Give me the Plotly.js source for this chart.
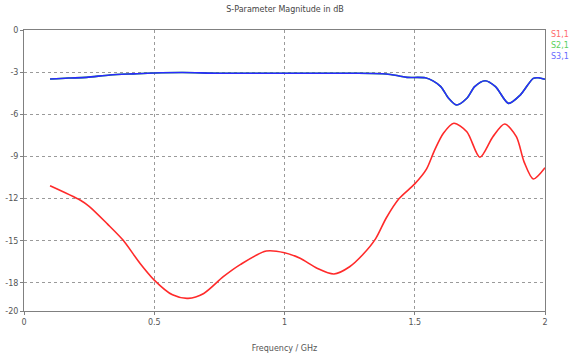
<!DOCTYPE html>
<html>
<head>
<meta charset="utf-8">
<script src="https://cdn.plot.ly/plotly-3.0.1.min.js"></script>
<style>html,body{margin:0;padding:0;background:#fff;}#chart{width:570px;height:354px;}</style>
</head>
<body>
<div id="chart"></div>
<script>
// Data
const freqS11 = [0.10, 0.215, 0.25, 0.32, 0.38, 0.445, 0.50, 0.57, 0.63, 0.69, 0.765, 0.83, 0.93, 1.00, 1.06, 1.125, 1.19, 1.25, 1.30, 1.35, 1.39, 1.44, 1.50, 1.545, 1.575, 1.61, 1.65, 1.70, 1.75, 1.80, 1.845, 1.89, 1.92, 1.955, 2.00];
const s11 = [-11.08, -12.1, -12.55, -13.8, -14.95, -16.6, -17.8, -18.85, -19.1, -18.75, -17.56, -16.7, -15.73, -15.85, -16.25, -16.96, -17.37, -16.85, -16.0, -14.85, -13.4, -12.0, -10.95, -9.9, -8.6, -7.35, -6.64, -7.24, -9.06, -7.59, -6.69, -7.59, -9.4, -10.6, -9.8];

const freqS31 = [0.10, 0.17, 0.24, 0.33, 0.42, 0.50, 0.61, 0.75, 1.00, 1.26, 1.39, 1.44, 1.47, 1.54, 1.57, 1.60, 1.63, 1.66, 1.70, 1.73, 1.77, 1.81, 1.86, 1.905, 1.955, 1.975, 2.00];
const s31 = [-3.49, -3.42, -3.37, -3.2, -3.12, -3.06, -3.03, -3.08, -3.08, -3.08, -3.13, -3.27, -3.37, -3.40, -3.62, -4.03, -4.86, -5.34, -4.86, -4.03, -3.61, -4.03, -5.22, -4.63, -3.44, -3.40, -3.51];
// S2,1 is hidden under S3,1 in the reference
const s21 = [-3.49, -3.42, -3.37, -3.2, -3.12, -3.06, -3.03, -3.08, -3.08, -3.08, -3.13, -3.27, -3.37, -3.40, -3.62, -4.03, -4.86, -5.34, -4.86, -4.03, -3.61, -4.03, -5.22, -4.63, -3.44, -3.40, -3.51];

const seriesNames = ['S1,1', 'S2,1', 'S3,1'];
const xTicks = [0, 0.5, 1, 1.5, 2];
const yTicks = [0, -3, -6, -9, -12, -15, -18, -20];

const lineColors = ['#ff2a2a', '#22bb22', '#2a2aff'];
const labelColors = ['#ff6a6a', '#5ccf5c', '#6a6aff'];

const traces = [
  {x: freqS11, y: s11, name: seriesNames[0], mode: 'lines', line: {color: lineColors[0], width: 1.6, shape: 'spline', smoothing: 0.8}},
  {x: freqS31, y: s21, name: seriesNames[1], mode: 'lines', line: {color: lineColors[1], width: 1.6, shape: 'spline', smoothing: 0.8}},
  {x: freqS31, y: s31, name: seriesNames[2], mode: 'lines', line: {color: lineColors[2], width: 1.6, shape: 'spline', smoothing: 0.8}}
];

const font = {family: 'DejaVu Sans, sans-serif', size: 8, color: '#555'};

const annotations = seriesNames.map((n, i) => ({
  text: n, xref: 'paper', yref: 'paper', x: 1, xshift: 4, xanchor: 'left',
  y: 1, yshift: -4 - 11 * i, yanchor: 'middle', showarrow: false,
  font: {family: 'DejaVu Sans, sans-serif', size: 8, color: labelColors[i]}
}));

const layout = {
  width: 570, height: 354,
  margin: {l: 24, r: 25, t: 30, b: 43},
  paper_bgcolor: '#fff', plot_bgcolor: '#fff',
  showlegend: false,
  font: font,
  title: {text: 'S-Parameter Magnitude in dB', x: 0.5, xanchor: 'center', y: 1, yref: 'container', yanchor: 'top', pad: {t: 6}, font: {family: 'DejaVu Sans, sans-serif', size: 8, color: '#444'}},
  xaxis: {
    range: [0, 2], tickvals: xTicks, ticktext: xTicks.map(String),
    showgrid: true, gridcolor: '#9a9a9a', griddash: 'dot', gridwidth: 1,
    showline: true, linecolor: '#808080', linewidth: 1, mirror: true,
    ticks: 'outside', ticklen: 3, tickcolor: '#808080',
    zeroline: false, tickfont: font,
    title: {text: 'Frequency / GHz', standoff: 19, font: {family: 'DejaVu Sans, sans-serif', size: 8, color: '#555'}}
  },
  yaxis: {
    range: [-20, 0], tickvals: yTicks, ticktext: yTicks.map(String),
    showgrid: true, gridcolor: '#9a9a9a', griddash: 'dot', gridwidth: 1,
    showline: true, linecolor: '#808080', linewidth: 1, mirror: true,
    ticks: 'outside', ticklen: 3, tickcolor: '#808080',
    zeroline: false, tickfont: font
  },
  annotations: annotations
};

Plotly.newPlot('chart', traces, layout, {displayModeBar: false, staticPlot: true});
</script>
</body>
</html>
